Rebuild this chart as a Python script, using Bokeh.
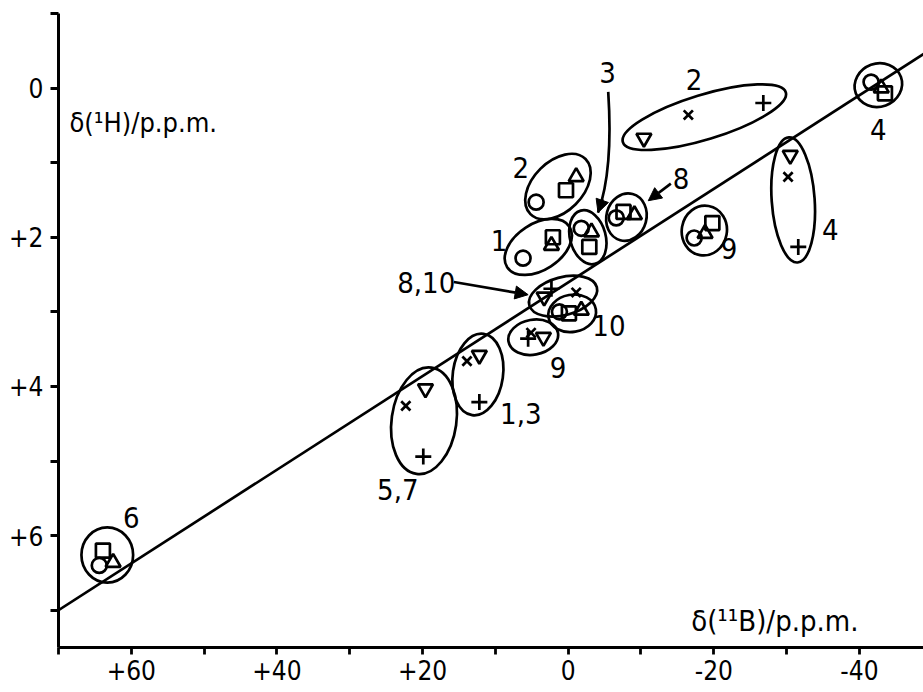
import numpy as np
from bokeh.plotting import figure
from bokeh.models import Range1d, FixedTicker, Arrow, NormalHead
from bokeh.core.properties import value
from bokeh.embed import file_html
from bokeh.resources import INLINE

FONT = "DejaVu Sans Condensed, Roboto, sans-serif"

# ---- data (delta 11B, delta 1H in p.p.m.) ----
circle_x = [64.4, 4.4, 6.2, -1.8, -6.6, 1.2, -17.3, -41.6]
circle_y = [6.40, 1.53, 2.28, 1.88, 1.74, 3.00, 2.01, -0.08]
square_x = [63.9, 0.3, 2.1, -2.9, -7.6, -0.1, -19.8, -43.5]
square_y = [6.20, 1.37, 2.00, 2.13, 1.66, 3.02, 1.81, 0.07]
triup_x = [62.5, -1.1, 2.3, -3.2, -9.1, -1.8, -18.8, -43.0]
triup_y = [6.36, 1.19, 2.11, 1.93, 1.70, 2.98, 1.95, 0.00]
tridn_x = [19.6, 12.2, 3.4, 3.3, -10.4, -30.5]
tridn_y = [4.03, 3.58, 3.34, 2.80, 0.67, 0.90]
xmark_x = [22.3, 13.9, 5.1, -1.1, -16.5, -30.2]
xmark_y = [4.26, 3.66, 3.28, 2.74, 0.36, 1.19]
plus_x = [19.9, 12.2, 5.5, 2.3, -26.8, -31.6]
plus_y = [4.94, 4.21, 3.36, 2.69, 0.20, 2.13]

# correlation line
line_x = [70, -49]
line_y = [7.0, -0.47]

# grouping ellipses: centre, width (x units), height (y units), angle (deg)
ell_x = [63.3, 19.8, 12.4, 4.8, -0.55, 0.7, 4.1, 1.4, -2.7, -8.0, -18.7, -18.7, -30.9, -42.6]
ell_y = [6.26, 4.46, 3.84, 3.34, 3.02, 2.79, 2.13, 1.32, 2.00, 1.73, 0.39, 1.91, 1.50, -0.04]
ell_w = [7.1, 8.9, 6.9, 6.9, 6.6, 9.6, 10.2, 10.7, 4.9, 5.5, 23.4, 6.2, 5.9, 6.6]
ell_h = [0.74, 1.44, 1.10, 0.47, 0.50, 0.51, 0.62, 0.67, 0.74, 0.64, 0.60, 0.67, 1.68, 0.58]
ell_a = [0, -8, -8, 10, 10, 15, 33, 45, 15, -15, 17, -10, 4, 20]

# group labels
lab_text = ["6", "5,7", "1,3", "9", "10", "8,10", "1", "2", "3", "8", "2", "9", "4", "4"]
lab_x = [60.0, 23.4, 6.5, 1.4, -5.6, 19.5, 9.5, 6.5, -5.4, -15.5, -17.3, -22.1, -42.6, -36.0]
lab_y = [5.76, 5.38, 4.36, 3.74, 3.18, 2.60, 2.04, 1.07, -0.21, 1.21, -0.11, 2.15, 0.56, 1.89]

# straight arrows (start -> end)
arr_x0 = [15.7, -14.1, -4.74]
arr_y0 = [2.60, 1.28, 1.49]
arr_x1 = [5.5, -11.0, -4.1]
arr_y1 = [2.77, 1.51, 1.67]
# curved arrow body for label "3"
curve_x0, curve_y0 = [-5.5], [0.05]
curve_cx, curve_cy = [-6.2], [1.10]
curve_x1, curve_y1 = [-4.1], [1.67]

# axes
x_major = [60, 40, 20, 0, -20, -40]
x_minor = [70, 50, 30, 10, -10, -30]
x_labels = ["+60", "+40", "+20", "0", "-20", "-40"]
y_major = [0, 2, 4, 6]
y_minor = [-1, 1, 3, 5, 7]
y_labels = ["0", "+2", "+4", "+6"]

p = figure(width=923, height=690, output_backend="svg", toolbar_location=None,
           x_range=Range1d(70, -48.8), y_range=Range1d(7.5, -1.0),
           min_border_left=58, min_border_right=0, min_border_top=13, min_border_bottom=43)
p.outline_line_color = None
p.xgrid.visible = False
p.ygrid.visible = False
p.background_fill_color = "white"
p.border_fill_color = "white"

for ax, major, minor, labels in ((p.xaxis[0], x_major, x_minor, x_labels),
                                 (p.yaxis[0], y_major, y_minor, y_labels)):
    ax.ticker = FixedTicker(ticks=major, minor_ticks=minor)
    ax.major_label_overrides = {t: l for t, l in zip(major, labels)}
    ax.axis_line_width = 3
    ax.axis_line_color = "black"
    ax.major_tick_line_width = 2.8
    ax.minor_tick_line_width = 2.8
    ax.major_tick_in = 0
    ax.minor_tick_in = 0
    ax.major_label_text_font = FONT
    ax.major_label_text_font_size = "26px"
    ax.major_label_text_color = "black"
p.xaxis.major_tick_out = 7
p.xaxis.minor_tick_out = 7
p.yaxis.major_tick_out = 8
p.yaxis.minor_tick_out = 8
p.xaxis.major_label_standoff = 5
p.yaxis.major_label_standoff = 7

LW = 2.7
p.line(line_x, line_y, line_color="black", line_width=LW)
p.ellipse(x=ell_x, y=ell_y, width=ell_w, height=ell_h, angle=ell_a, angle_units="deg",
          fill_color=None, line_color="black", line_width=LW)

p.scatter(circle_x, circle_y, marker="circle", size=15, fill_color=None, line_color="black", line_width=LW)
p.scatter(square_x, square_y, marker="square", size=14, fill_color=None, line_color="black", line_width=LW)
p.scatter(triup_x, triup_y, marker="triangle", size=15, fill_color=None, line_color="black", line_width=LW)
p.scatter(tridn_x, tridn_y, marker="inverted_triangle", size=15, fill_color=None, line_color="black", line_width=LW)
p.scatter(xmark_x, xmark_y, marker="x", size=13, line_color="black", line_width=LW)
p.scatter(plus_x, plus_y, marker="cross", size=16, line_color="black", line_width=LW)

p.text(x=lab_x, y=lab_y, text=lab_text, text_font=value(FONT), text_font_size="29px",
       text_align="center", text_baseline="middle", text_color="black")

# axis titles inside the frame
p.text(x=[68.5], y=[0.46], text=["δ(¹H)/p.p.m."], text_font=value(FONT), text_font_size="27px",
       text_align="left", text_baseline="middle", text_color="black")
p.text(x=[-16.9], y=[7.14], text=["δ(¹¹B)/p.p.m."], text_font=value(FONT), text_font_size="29px",
       text_align="left", text_baseline="middle", text_color="black")

for xs, ys, xe, ye in zip(arr_x0, arr_y0, arr_x1, arr_y1):
    p.add_layout(Arrow(end=NormalHead(size=13, fill_color="black", line_color="black", line_width=1),
                       x_start=xs, y_start=ys, x_end=xe, y_end=ye,
                       line_color="black", line_width=LW))
p.quadratic(x0=curve_x0, y0=curve_y0, x1=curve_x1, y1=curve_y1, cx=curve_cx, cy=curve_cy,
            line_color="black", line_width=LW)

open("out.html", "w").write(file_html(p, INLINE))
